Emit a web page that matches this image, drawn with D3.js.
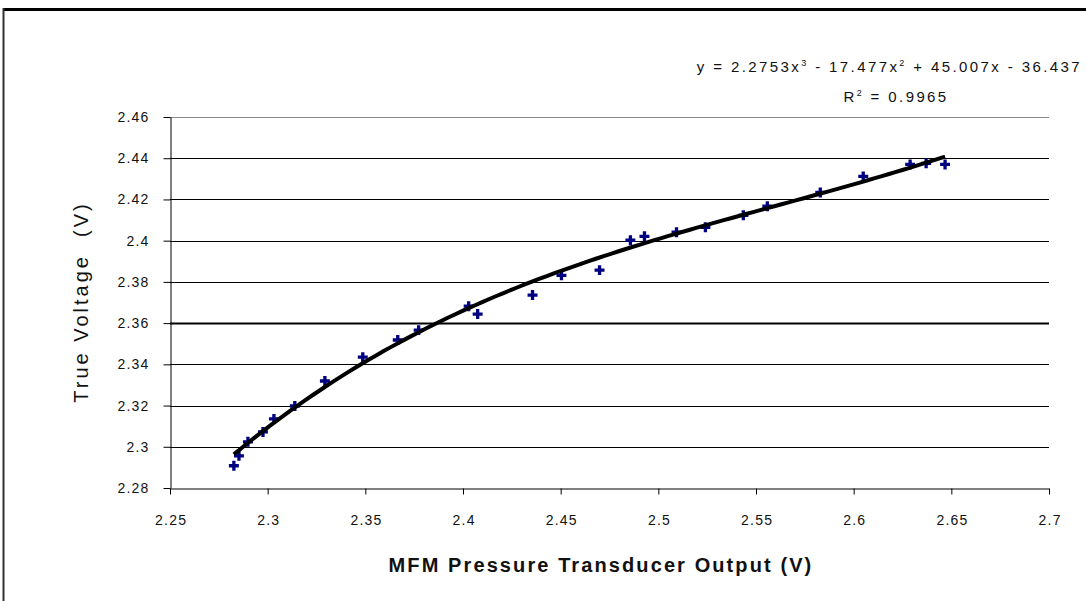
<!DOCTYPE html>
<html>
<head>
<meta charset="utf-8">
<script src="https://cdn.jsdelivr.net/npm/d3@7"></script>
<style>
  body { margin: 0; background: #fff; }
  svg { display: block; font-family: 'Liberation Sans', Arial, sans-serif; }
</style>
</head>
<body>
<div id="chart"></div>
<script>
// Data
const pressureOutput = [2.2827, 2.2853, 2.2899, 2.2976, 2.3032, 2.3139, 2.3293, 2.3487, 2.3666, 2.3773,
  2.4029, 2.4075, 2.4356, 2.4504, 2.4699, 2.4857, 2.4929, 2.5093, 2.5241, 2.5435,
  2.5558, 2.5829, 2.6049, 2.6289, 2.6371, 2.6468]
const trueVoltage = [2.2908, 2.2956, 2.3024, 2.3072, 2.3135, 2.3198, 2.3319, 2.3435, 2.3518, 2.3566,
  2.3682, 2.3644, 2.3736, 2.3832, 2.3857, 2.4002, 2.4021, 2.4041, 2.4065, 2.4123,
  2.4167, 2.4234, 2.4312, 2.4370, 2.4375, 2.4370]

// Cubic trendline coefficients as printed on the chart (x^3, x^2, x, 1)
const trendCoef = [2.2753, -17.477, 45.007, -36.437]

const xTicks = [2.25, 2.3, 2.35, 2.4, 2.45, 2.5, 2.55, 2.6, 2.65, 2.7]
const yTicks = [2.28, 2.3, 2.32, 2.34, 2.36, 2.38, 2.4, 2.42, 2.44, 2.46]

const w = 1086
const h = 601

const svg = d3.select('#chart').append('svg')
  .attr('width', w)
  .attr('height', h)

// Outer frame
svg.append('line')
  .attr('x1', 3).attr('x2', w).attr('y1', 9.5).attr('y2', 9.5)
  .attr('stroke', '#000').attr('stroke-width', 3)
svg.append('line')
  .attr('x1', 3.5).attr('x2', 3.5).attr('y1', 8).attr('y2', h)
  .attr('stroke', '#333').attr('stroke-width', 2)

// Scales
const xScale = d3.scaleLinear().domain([2.25, 2.7]).range([170, 1049])
const yScale = d3.scaleLinear().domain([2.28, 2.46]).range([488, 117])

const fmt = d => String(+d.toFixed(2))

// Gridlines
svg.append('g')
  .selectAll('line')
  .data(yTicks.slice(1))
  .enter()
  .append('line')
  .attr('x1', 170)
  .attr('x2', 1049)
  .attr('y1', d => Math.round(yScale(d)) + 0.5)
  .attr('y2', d => Math.round(yScale(d)) + 0.5)
  .attr('stroke', d => d === 2.46 ? '#888' : '#000')
  .attr('stroke-width', d => d === 2.36 ? 2 : 1.2)

// Axes
const xAxis = d3.axisBottom(xScale).tickValues(xTicks).tickFormat(fmt).tickSize(6).tickPadding(21).tickSizeOuter(0)
const yAxis = d3.axisLeft(yScale).tickValues(yTicks).tickFormat(fmt).tickSize(7).tickPadding(14).tickSizeOuter(0)

const gx = svg.append('g')
  .attr('transform', 'translate(0, 488.5)')
  .call(xAxis)
const gy = svg.append('g')
  .attr('transform', 'translate(170.5, 0)')
  .call(yAxis)

;[gx, gy].forEach(g => {
  g.selectAll('path, line').attr('stroke', '#000')
  g.selectAll('text')
    .attr('fill', '#111')
    .style('font-size', '14px')
    .style('letter-spacing', '1.2px')
})
// letter-spacing adds trailing space; pull the x labels back to centre
gx.selectAll('text').attr('dx', '0.6px')

// Trendline
const x0 = d3.min(pressureOutput)
const x1 = d3.max(pressureOutput)
const trend = d3.range(0, 101).map(i => {
  const x = x0 + (x1 - x0) * i / 100
  const y = trendCoef[0] * x * x * x + trendCoef[1] * x * x + trendCoef[2] * x + trendCoef[3]
  return [x, y]
})

// Points
svg.append('g')
  .selectAll('path')
  .data(pressureOutput)
  .enter()
  .append('path')
  .attr('d', d3.symbol().type(d3.symbolCross).size(55))
  .attr('transform', (d, i) => `translate(${xScale(d)}, ${yScale(trueVoltage[i])})`)
  .attr('fill', '#000080')

svg.append('path')
  .datum(trend)
  .attr('fill', 'none')
  .attr('stroke', '#000')
  .attr('stroke-width', 4)
  .attr('d', d3.line().x(d => xScale(d[0])).y(d => yScale(d[1])))

// Axis titles
svg.append('text')
  .attr('x', 601)
  .attr('y', 572)
  .attr('text-anchor', 'middle')
  .style('font-size', '20px')
  .style('font-weight', 'bold')
  .style('letter-spacing', '2.1px')
  .attr('fill', '#111')
  .text('MFM Pressure Transducer Output (V)')

svg.append('text')
  .attr('transform', 'translate(88, 302) rotate(-90)')
  .attr('text-anchor', 'middle')
  .style('font-size', '20px')
  .style('letter-spacing', '3px')
  .style('white-space', 'pre')
  .attr('fill', '#111')
  .text('True Voltage  (V)')

// Trendline equation
const eq = svg.append('text')
  .attr('x', 1082)
  .attr('y', 72)
  .attr('text-anchor', 'end')
  .style('font-size', '15px')
  .style('letter-spacing', '2.4px')
  .attr('fill', '#111')
eq.append('tspan').text('y = 2.2753x')
eq.append('tspan').attr('dy', -6).style('font-size', '9px').text('3')
eq.append('tspan').attr('dy', 6).text(' - 17.477x')
eq.append('tspan').attr('dy', -6).style('font-size', '9px').text('2')
eq.append('tspan').attr('dy', 6).text(' + 45.007x - 36.437')

const r2 = svg.append('text')
  .attr('x', 896)
  .attr('y', 102)
  .attr('text-anchor', 'middle')
  .style('font-size', '15px')
  .style('letter-spacing', '2.4px')
  .attr('fill', '#111')
r2.append('tspan').text('R')
r2.append('tspan').attr('dy', -6).style('font-size', '9px').text('2')
r2.append('tspan').attr('dy', 6).text(' = 0.9965')
</script>
</body>
</html>
